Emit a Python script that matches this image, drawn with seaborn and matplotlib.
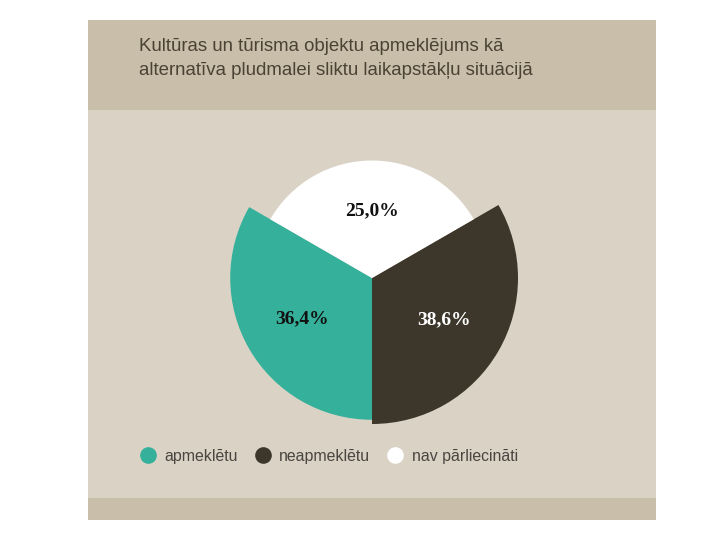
import numpy as np
import matplotlib
matplotlib.use("Agg")
import matplotlib.pyplot as plt
import seaborn as sns
from matplotlib.patches import Rectangle
from matplotlib.lines import Line2D

# dati
kategorijas = ["apmeklētu", "neapmeklētu", "nav pārliecināti"]
vertibas = [36.4, 38.6, 25.0]
etiketes = ["36,4%", "38,6%", "25,0%"]
krasas = ["#35b09a", "#3d362b", "#ffffff"]
teksta_krasas = ["#111111", "#ffffff", "#111111"]
virsraksts = "Kultūras un tūrisma objektu apmeklējums kā\nalternatīva pludmalei sliktu laikapstākļu situācijā"

sns.set_theme(style="white")
plt.rcParams["font.family"] = ["Liberation Sans", "DejaVu Sans"]

fig = plt.figure(figsize=(7.2, 5.4), dpi=100)
fig.patch.set_facecolor("white")

# fons (papīra tonis)
fig.add_artist(Rectangle((88/720, 20/540), 568/720, 500/540, transform=fig.transFigure,
                         facecolor="#d9d2c5", edgecolor="none", zorder=0))
fig.add_artist(Rectangle((88/720, 1 - 110/540), 568/720, 90/540, transform=fig.transFigure,
                         facecolor="#c9bea9", edgecolor="none", zorder=0))
fig.add_artist(Rectangle((88/720, 20/540), 568/720, 22/540, transform=fig.transFigure,
                         facecolor="#c9bea9", edgecolor="none", zorder=0))

fig.text(139/720, 1 - 58.5/540, virsraksts, ha="left", va="center", fontsize=13.4,
         color="#4a4233", linespacing=1.6)

# polārā laukuma diagramma: vienādi leņķi, laukums ~ vērtībai
ax = fig.add_axes([222/720, 1 - 428/540, 300/720, 300/540], projection="polar")
ax.set_facecolor("none")
lenki = np.deg2rad([210, 330, 90])
radiusi = np.sqrt(vertibas)
ax.bar(lenki, radiusi, width=2*np.pi/3, color=krasas, edgecolor="none", align="center")
ax.set_ylim(0, 150/23.5)
ax.grid(False)
ax.set_xticks([])
ax.set_yticks([])
ax.spines["polar"].set_visible(False)

for t, r, lab, c in zip(lenki, radiusi, etiketes, teksta_krasas):
    ax.text(t, 0.57*r, lab, ha="center", va="center", fontsize=14, fontweight="bold",
            color=c, family="Liberation Serif")

rokturi = [Line2D([], [], marker="o", linestyle="none", markersize=12,
                  markerfacecolor=k, markeredgecolor="none") for k in krasas]
fig.legend(rokturi, kategorijas, loc="center left", bbox_to_anchor=(140/720, 1 - 456/540),
           ncol=3, frameon=False, fontsize=11.4, handlelength=1.0, handletextpad=0.55,
           columnspacing=1.05, borderpad=0, borderaxespad=0, labelcolor="#4a4540")

fig.savefig("out.png", dpi=100)
